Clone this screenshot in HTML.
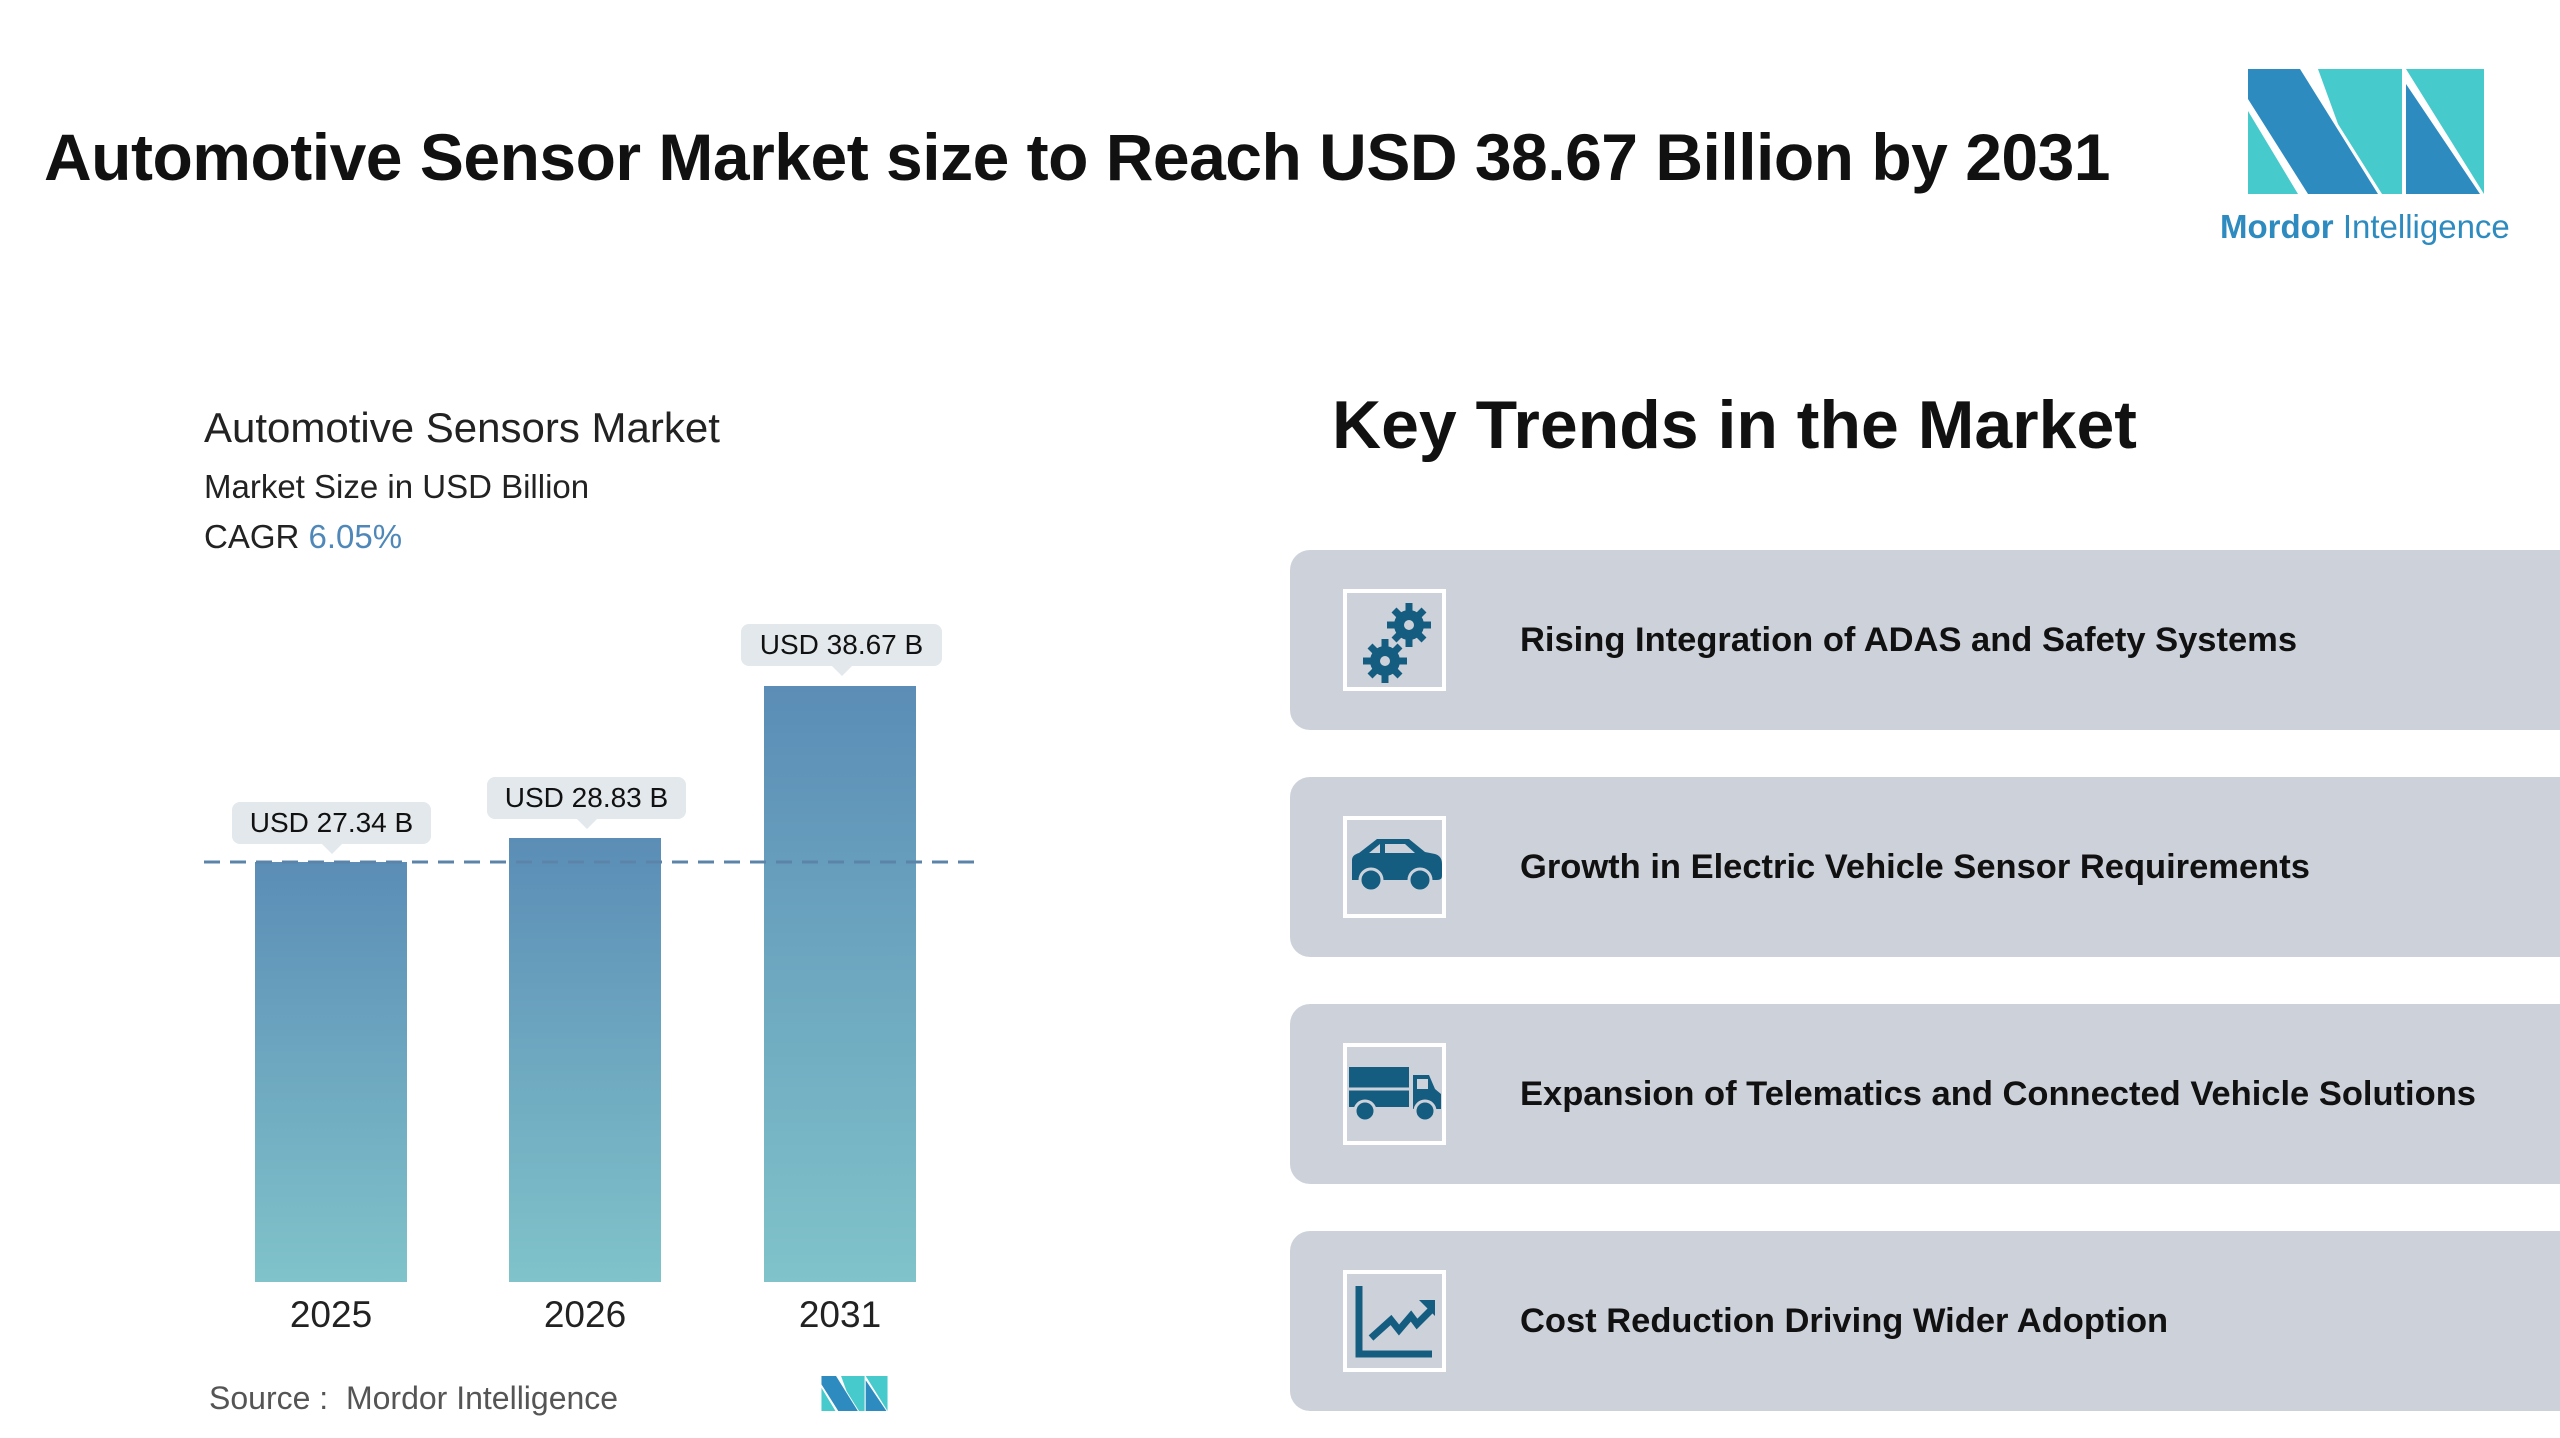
<!DOCTYPE html>
<html><head><meta charset="utf-8"><style>
body{margin:0;width:2560px;height:1438px;background:#fff;position:relative;overflow:hidden;font-family:"Liberation Sans","DejaVu Sans",sans-serif}
.a{position:absolute;white-space:nowrap}
.bar{position:absolute;background:linear-gradient(#5b8db6,#80c3ca)}
.lbl{position:absolute;height:42px;background:#e2e8eb;border-radius:8px;font-size:28px;line-height:42px;text-align:center;color:#111}
.lbl:after{content:"";position:absolute;left:50%;bottom:-10px;margin-left:-10px;border-left:10px solid transparent;border-right:10px solid transparent;border-top:10px solid #e2e8eb}
.yr{position:absolute;font-size:37px;color:#222;width:152px;text-align:center;top:1294px}
.card{position:absolute;left:1290px;width:1290px;height:180px;background:#cdd2da;border-radius:20px}
.ib{position:absolute;left:53px;top:39px;width:95px;height:94px;border:4px solid #fff;background:#cdd2da}
.ct{position:absolute;left:230px;top:0;line-height:180px;font-size:34.5px;font-weight:bold;color:#111}
</style></head><body>
<div class="a" style="left:44px;top:119px;font-size:66px;font-weight:bold;color:#111;letter-spacing:-0.5px">Automotive Sensor Market size to Reach USD 38.67 Billion by 2031</div>
<svg class="a" style="left:2248px;top:69px" width="236" height="125" viewBox="0 0 236 125">
<polygon points="0,0 52,0 130,125 60,125 0,30" fill="#2e8bc0"/>
<polygon points="0,42 0,125 50,125" fill="#47cacc"/>
<polygon points="70,0 154,0 154,125 134,125 90,55" fill="#47cacc"/>
<polygon points="158,0 236,0 236,125" fill="#47cacc"/>
<polygon points="158,15 232,125 158,125" fill="#2e8bc0"/>
</svg>
<div class="a" style="left:2220px;top:208px;font-size:33px;color:#2e8bc0"><b>Mordor</b> Intelligence</div>

<div class="a" style="left:204px;top:404px;font-size:42px;color:#222">Automotive Sensors Market</div>
<div class="a" style="left:204px;top:468px;font-size:33px;color:#222">Market Size in USD Billion</div>
<div class="a" style="left:204px;top:518px;font-size:33px;color:#222">CAGR <span style="color:#4f88b8">6.05%</span></div>

<div class="bar" style="left:255px;top:862px;width:152px;height:420px"></div>
<div class="bar" style="left:509px;top:838px;width:152px;height:444px"></div>
<div class="bar" style="left:764px;top:686px;width:152px;height:596px"></div>
<svg class="a" style="left:204px;top:858px" width="772" height="8"><line x1="0" y1="4" x2="772" y2="4" stroke="#5b84a8" stroke-width="3" stroke-dasharray="16 10"/></svg>
<div class="lbl" style="left:232px;top:802px;width:199px">USD 27.34 B</div>
<div class="lbl" style="left:487px;top:777px;width:199px">USD 28.83 B</div>
<div class="lbl" style="left:741px;top:624px;width:201px">USD 38.67 B</div>
<div class="yr" style="left:255px">2025</div>
<div class="yr" style="left:509px">2026</div>
<div class="yr" style="left:764px">2031</div>
<div class="a" style="left:209px;top:1380px;font-size:32px;color:#555">Source :&nbsp; Mordor Intelligence</div>
<svg class="a" style="left:821px;top:1376px" width="67" height="35" viewBox="0 0 236 125">
<polygon points="0,0 52,0 130,125 60,125 0,30" fill="#2e8bc0"/>
<polygon points="0,42 0,125 50,125" fill="#47cacc"/>
<polygon points="70,0 154,0 154,125 134,125 90,55" fill="#47cacc"/>
<polygon points="158,0 236,0 236,125" fill="#47cacc"/>
<polygon points="158,15 232,125 158,125" fill="#2e8bc0"/>
</svg>

<div class="a" style="left:1332px;top:386px;font-size:68px;font-weight:bold;color:#111">Key Trends in the Market</div>

<div class="card" style="top:550px"><div class="ib"><svg width="95" height="94" viewBox="0 0 95 94">
<g fill="#155d80"><circle cx="62" cy="32" r="15"/><circle cx="38" cy="68" r="15"/>
<g stroke="#155d80" stroke-width="7"><line x1="62" y1="10" x2="62" y2="54"/><line x1="40" y1="32" x2="84" y2="32"/><line x1="47" y1="17" x2="77" y2="47"/><line x1="47" y1="47" x2="77" y2="17"/>
<line x1="38" y1="46" x2="38" y2="90"/><line x1="16" y1="68" x2="60" y2="68"/><line x1="23" y1="53" x2="53" y2="83"/><line x1="23" y1="83" x2="53" y2="53"/></g></g>
<circle cx="62" cy="32" r="5" fill="#cdd2da"/><circle cx="38" cy="68" r="5" fill="#cdd2da"/></svg></div>
<div class="ct">Rising Integration of ADAS and Safety Systems</div></div>

<div class="card" style="top:777px"><div class="ib"><svg width="95" height="94" viewBox="0 0 95 94">
<path d="M5,40 Q5,35 12,33 L30,19 L62,19 L78,32 L88,34 Q95,36 95,44 L95,56 Q95,60 90,60 L5,60 Z" fill="#155d80"/>
<path d="M22,33 L33,24 L33,33 Z M38,24 L58,24 L68,33 L38,33 Z" fill="#cdd2da"/>
<circle cx="24" cy="60" r="11" fill="#155d80" stroke="#cdd2da" stroke-width="3"/><circle cx="73" cy="60" r="11" fill="#155d80" stroke="#cdd2da" stroke-width="3"/></svg></div>
<div class="ct">Growth in Electric Vehicle Sensor Requirements</div></div>

<div class="card" style="top:1004px"><div class="ib"><svg width="95" height="94" viewBox="0 0 95 94">
<rect x="2" y="20" width="60" height="40" fill="#155d80"/><line x1="2" y1="42" x2="62" y2="42" stroke="#cdd2da" stroke-width="3"/>
<path d="M66,28 L82,28 L88,42 L94,47 L94,62 L66,62 Z" fill="#155d80"/><rect x="70" y="32" width="11" height="10" fill="#cdd2da"/>
<circle cx="18" cy="64" r="10" fill="#155d80" stroke="#cdd2da" stroke-width="3"/><circle cx="78" cy="64" r="10" fill="#155d80" stroke="#cdd2da" stroke-width="3"/></svg></div>
<div class="ct">Expansion of Telematics and Connected Vehicle Solutions</div></div>

<div class="card" style="top:1231px"><div class="ib"><svg width="95" height="94" viewBox="0 0 95 94">
<path d="M12,12 V80 H85" fill="none" stroke="#155d80" stroke-width="7"/>
<polyline points="24,64 44,46 52,56 64,42 70,50 84,36" fill="none" stroke="#155d80" stroke-width="7"/>
<polygon points="72,26 88,26 88,42" fill="#155d80"/></svg></div>
<div class="ct">Cost Reduction Driving Wider Adoption</div></div>
</body></html>
